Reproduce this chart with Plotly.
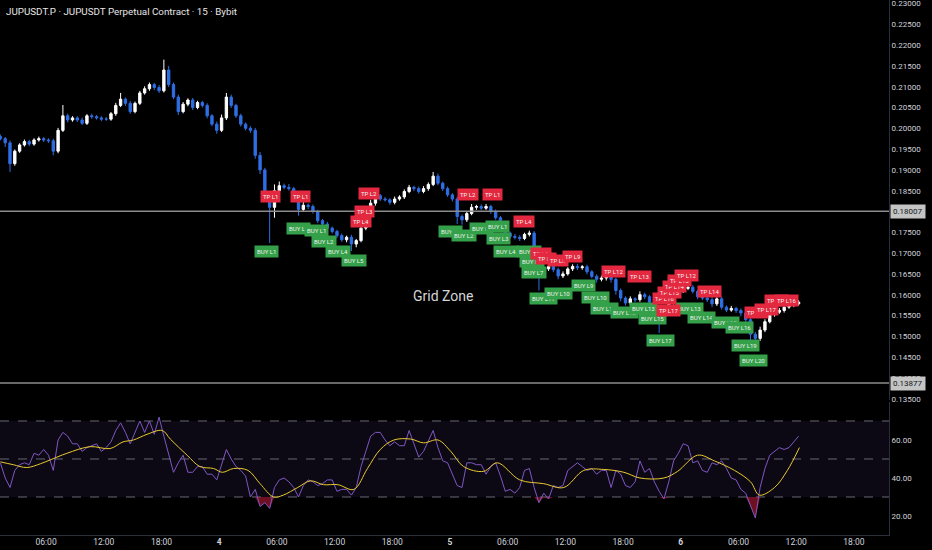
import pandas as pd
import plotly.graph_objects as go
from plotly.subplots import make_subplots

# -----------------------------
# Data (30-min bars, prices in USDT)
# -----------------------------
bar_time = pd.date_range("2025-02-03 01:15", periods=167, freq="30min")

closes = [
    0.1975, 0.1965, 0.1915, 0.1945, 0.1960, 0.1968, 0.1962, 0.1972, 0.1975, 0.1972,
    0.1970, 0.1945, 0.1995, 0.2030, 0.2020, 0.2025, 0.2020, 0.2012, 0.2030, 0.2028,
    0.2025, 0.2022, 0.2022, 0.2035, 0.2055, 0.2070, 0.2060, 0.2040, 0.2060, 0.2085,
    0.2095, 0.2105, 0.2098, 0.2090, 0.2140, 0.2105, 0.2075, 0.2040, 0.2058, 0.2068,
    0.2050, 0.2062, 0.2055, 0.2030, 0.2010, 0.1995, 0.2025, 0.2075, 0.2055, 0.2030,
    0.2010, 0.2000, 0.1995, 0.1935, 0.1900, 0.1840, 0.1810, 0.1850, 0.1862, 0.1858,
    0.1855, 0.1835, 0.1805, 0.1815, 0.1812, 0.1800, 0.1778, 0.1770, 0.1760, 0.1752,
    0.1742, 0.1732, 0.1738, 0.1722, 0.1730, 0.1760, 0.1800, 0.1820, 0.1838, 0.1830,
    0.1828, 0.1822, 0.1830, 0.1835, 0.1848, 0.1858, 0.1855, 0.1848, 0.1855, 0.1865,
    0.1885, 0.1868, 0.1855, 0.1840, 0.1830, 0.1788, 0.1780, 0.1795, 0.1810, 0.1812,
    0.1808, 0.1812, 0.1800, 0.1785, 0.1758, 0.1748, 0.1740, 0.1738, 0.1735, 0.1745,
    0.1748, 0.1700, 0.1650, 0.1662, 0.1668, 0.1660, 0.1645, 0.1650, 0.1662, 0.1668,
    0.1665, 0.1667, 0.1655, 0.1644, 0.1637, 0.1640, 0.1650, 0.1637, 0.1610, 0.1592,
    0.1580, 0.1590, 0.1588, 0.1600, 0.1595, 0.1582, 0.1565, 0.1545, 0.1555, 0.1580,
    0.1600, 0.1610, 0.1615, 0.1618, 0.1608, 0.1595, 0.1592, 0.1588, 0.1578, 0.1590,
    0.1570, 0.1563, 0.1567, 0.1562, 0.1556, 0.1540, 0.1505, 0.1495, 0.1515, 0.1535,
    0.1552, 0.1558, 0.1562, 0.1570, 0.1575, 0.1578, 0.1582,
]
first_open = 0.1980

# wick lengths above / below the body, in 0.0001 USDT
upper_wick = [
    5, 4, 6, 4, 4, 5, 4, 4, 5, 4,
    4, 5, 6, 26, 5, 4, 4, 6, 4, 5,
    4, 4, 5, 4, 6, 15, 4, 6, 4, 5,
    6, 5, 4, 6, 25, 10, 5, 6, 5, 4,
    5, 4, 4, 5, 4, 6, 8, 10, 6, 4,
    5, 4, 5, 6, 8, 5, 6, 15, 10, 5,
    8, 4, 5, 8, 4, 5, 4, 4, 5, 4,
    4, 5, 4, 6, 4, 5, 6, 8, 5, 4,
    5, 4, 6, 4, 5, 6, 4, 5, 6, 5,
    10, 6, 4, 5, 4, 6, 5, 6, 8, 4,
    5, 6, 4, 5, 4, 5, 4, 6, 5, 4,
    6, 5, 8, 5, 6, 4, 5, 6, 4, 5,
    6, 4, 5, 4, 5, 6, 4, 5, 4, 5,
    4, 6, 4, 8, 5, 4, 5, 4, 6, 5,
    6, 5, 4, 6, 5, 4, 5, 4, 6, 4,
    5, 4, 6, 4, 5, 4, 5, 6, 8, 6,
    5, 4, 6, 4, 5, 4, 5,
]
lower_wick = [
    4, 10, 20, 5, 4, 4, 5, 4, 4, 5,
    5, 10, 5, 4, 6, 4, 5, 4, 4, 5,
    4, 5, 4, 4, 5, 4, 6, 5, 4, 4,
    4, 5, 6, 5, 4, 6, 5, 8, 4, 5,
    6, 4, 5, 6, 5, 8, 4, 5, 6, 5,
    6, 5, 6, 8, 10, 12, 86, 25, 6, 5,
    5, 6, 15, 5, 6, 5, 6, 5, 6, 5,
    6, 5, 6, 17, 8, 4, 5, 4, 6, 5,
    4, 6, 5, 4, 5, 4, 6, 5, 4, 5,
    4, 5, 6, 5, 6, 18, 12, 5, 4, 6,
    5, 4, 6, 5, 8, 5, 6, 5, 6, 4,
    5, 8, 40, 6, 5, 6, 8, 5, 4, 5,
    6, 5, 6, 5, 8, 5, 6, 8, 10, 8,
    6, 5, 6, 5, 6, 8, 6, 37, 8, 5,
    4, 5, 6, 4, 5, 6, 5, 6, 8, 5,
    6, 5, 4, 6, 8, 10, 15, 20, 6, 5,
    4, 5, 4, 5, 4, 5, 4,
]

rsi = [
    48, 40, 35, 44, 47, 48, 47, 53, 52, 55,
    52, 44, 60, 64, 62, 58, 58, 54, 56, 57,
    58, 54, 56, 59, 65, 69, 64, 58, 64, 70,
    64, 70, 63, 72, 62, 53, 43, 48, 52, 43,
    43, 46, 46, 42, 42, 39, 47, 55, 50, 46,
    44, 41, 30, 34, 25, 27, 24, 35, 39, 40,
    38, 35, 30, 36, 39, 38, 36, 37, 39, 39,
    33, 34, 34, 31, 35, 46, 54, 62, 64, 64,
    60, 57, 59, 57, 57, 65, 58, 51, 54, 60,
    65, 56, 49, 48, 42, 36, 35, 48, 48, 47,
    47, 42, 46, 48, 41, 33, 34, 32, 35, 44,
    45, 35, 27, 32, 29, 36, 35, 36, 44, 46,
    48, 46, 44, 45, 42, 44, 44, 35, 44, 42,
    36, 35, 38, 49, 43, 45, 38, 33, 29, 38,
    49, 53, 58, 57, 48, 49, 44, 43, 48, 47,
    49, 45, 40, 39, 34, 32, 25, 19, 35, 45,
    52, 54, 56, 55, 56, 59, 62,
]

ma_time = [
    "2025-02-03 01:15", "2025-02-03 02:35", "2025-02-03 04:00", "2025-02-03 05:25",
    "2025-02-03 06:25", "2025-02-03 08:10", "2025-02-03 10:35", "2025-02-03 12:40",
    "2025-02-03 14:00", "2025-02-03 15:05", "2025-02-03 16:30", "2025-02-03 18:05",
    "2025-02-03 18:55", "2025-02-03 20:40", "2025-02-03 22:00", "2025-02-03 23:25",
    "2025-02-04 00:20", "2025-02-04 01:30", "2025-02-04 03:00", "2025-02-04 04:15",
    "2025-02-04 05:40", "2025-02-04 06:40", "2025-02-04 08:10", "2025-02-04 09:30",
    "2025-02-04 10:50", "2025-02-04 12:20", "2025-02-04 14:00", "2025-02-04 15:25",
    "2025-02-04 16:45", "2025-02-04 18:10", "2025-02-04 19:55", "2025-02-04 21:15",
    "2025-02-04 22:45", "2025-02-05 00:05", "2025-02-05 01:25", "2025-02-05 03:30",
    "2025-02-05 04:55", "2025-02-05 07:15", "2025-02-05 09:45", "2025-02-05 11:50",
    "2025-02-05 13:55", "2025-02-05 16:00", "2025-02-05 18:05", "2025-02-05 19:45",
    "2025-02-05 22:15", "2025-02-05 23:40", "2025-02-06 01:45", "2025-02-06 03:30",
    "2025-02-06 05:35", "2025-02-06 07:15", "2025-02-06 08:10", "2025-02-06 09:45",
    "2025-02-06 11:05", "2025-02-06 12:20",
]
ma_vals = [
    48.5, 47, 45.5, 47.5, 49.5, 53, 56.5, 55.5, 59, 60, 63, 65, 60.5, 52, 46, 45,
    43, 45, 44, 37, 30, 31, 35, 38.5, 36.5, 36.5, 34, 45, 55, 60, 60.5, 58.5, 60,
    54, 46, 43.5, 48, 39, 37, 35, 44, 44.5, 43, 40, 40, 43.5,
    52, 49, 44, 38, 31, 35, 44, 56,
]

# grid order labels
buy_time = [
    "2025-02-04 04:55", "2025-02-04 08:15", "2025-02-04 10:08", "2025-02-04 10:52",
    "2025-02-04 12:19", "2025-02-04 13:59", "2025-02-05 00:05", "2025-02-05 01:26",
    "2025-02-05 03:19", "2025-02-05 04:59", "2025-02-05 05:05", "2025-02-05 05:49",
    "2025-02-05 08:13", "2025-02-05 08:31", "2025-02-05 08:44", "2025-02-05 09:46",
    "2025-02-05 11:20", "2025-02-05 13:56", "2025-02-05 15:05", "2025-02-05 16:01",
    "2025-02-05 18:07", "2025-02-05 20:05", "2025-02-05 21:01", "2025-02-05 21:52",
    "2025-02-06 00:53", "2025-02-06 02:08", "2025-02-06 04:38", "2025-02-06 06:05",
    "2025-02-06 06:43", "2025-02-06 07:32",
]
buy_price = [
    0.1705, 0.1758, 0.1755, 0.1729, 0.1705, 0.1683, 0.1751, 0.1743,
    0.1760, 0.1765, 0.1736, 0.1705, 0.1703, 0.1679, 0.1654, 0.1592,
    0.1604, 0.1621, 0.1594, 0.1568, 0.1556, 0.1568, 0.1542, 0.1489,
    0.1568, 0.1544, 0.1534, 0.1522, 0.1479, 0.1443,
]
buy_text = [
    "BUY L1", "BUY L1", "BUY L1", "BUY L2", "BUY L4", "BUY L5", "BUY L1", "BUY L2",
    "BUY L1", "BUY L1", "BUY L3", "BUY L4", "BUY L5", "BUY L6", "BUY L7", "BUY L11",
    "BUY L10", "BUY L9", "BUY L10", "BUY L11", "BUY L12", "BUY L13", "BUY L15", "BUY L17",
    "BUY L13", "BUY L14", "BUY L15", "BUY L16", "BUY L19", "BUY L20",
]
tp_time = [
    "2025-02-04 05:20", "2025-02-04 08:28", "2025-02-04 14:43", "2025-02-04 15:08",
    "2025-02-04 15:32", "2025-02-05 01:52", "2025-02-05 04:28", "2025-02-05 07:41",
    "2025-02-05 09:28", "2025-02-05 09:59", "2025-02-05 11:14", "2025-02-05 12:47",
    "2025-02-05 16:58", "2025-02-05 19:40", "2025-02-05 22:41", "2025-02-05 22:16",
    "2025-02-05 22:47", "2025-02-05 23:19", "2025-02-05 23:50", "2025-02-06 00:34",
    "2025-02-06 02:58", "2025-02-06 07:51", "2025-02-06 08:54", "2025-02-06 09:56",
    "2025-02-06 10:59",
]
tp_price = [
    0.1835, 0.1835, 0.1775, 0.1801, 0.1844, 0.1840, 0.1840, 0.1777,
    0.1700, 0.1688, 0.1681, 0.1691, 0.1655, 0.1643, 0.1563, 0.1590,
    0.1605, 0.1619, 0.1633, 0.1647, 0.1607, 0.1556, 0.1565, 0.1587,
    0.1587,
]
tp_text = [
    "TP L1", "TP L1", "TP L4", "TP L3", "TP L2", "TP L2", "TP L1", "TP L4",
    "TP L6", "TP L7", "TP L8", "TP L9", "TP L12", "TP L13", "TP L17", "TP L16",
    "TP L15", "TP L14", "TP L13", "TP L12", "TP L14", "TP L18", "TP L17", "TP L17",
    "TP L16",
]

grid_top = 0.18007
grid_bottom = 0.13877

tick_time = [
    "2025-02-03 06:00", "2025-02-03 12:00", "2025-02-03 18:00", "2025-02-04 00:00",
    "2025-02-04 06:00", "2025-02-04 12:00", "2025-02-04 18:00", "2025-02-05 00:00",
    "2025-02-05 06:00", "2025-02-05 12:00", "2025-02-05 18:00", "2025-02-06 00:00",
    "2025-02-06 06:00", "2025-02-06 12:00", "2025-02-06 18:00",
]
tick_text = ["06:00", "12:00", "18:00", "<b>4</b>", "06:00", "12:00", "18:00", "<b>5</b>",
             "06:00", "12:00", "18:00", "<b>6</b>", "06:00", "12:00", "18:00"]

# -----------------------------
# Build OHLC
# -----------------------------
df = pd.DataFrame({"time": bar_time, "close": closes})
df["open"] = [first_open] + closes[:-1]
df["high"] = df[["open", "close"]].max(axis=1) + pd.Series(upper_wick) * 1e-4
df["low"] = df[["open", "close"]].min(axis=1) - pd.Series(lower_wick) * 1e-4

BG = "#000000"
TXT = "#d1d4dc"
FONT = "Roboto"

fig = make_subplots(rows=2, cols=1, shared_xaxes=True, vertical_spacing=0.01)

fig.add_trace(go.Candlestick(
    x=df["time"], open=df["open"], high=df["high"], low=df["low"], close=df["close"],
    increasing=dict(line=dict(color="#ffffff", width=1), fillcolor="#ffffff"),
    decreasing=dict(line=dict(color="#2f6fe4", width=1), fillcolor="#2f6fe4"),
    whiskerwidth=0, showlegend=False, hoverinfo="skip",
), row=1, col=1)

# RSI pane
fig.add_trace(go.Scatter(x=bar_time, y=[30] * len(rsi), mode="lines",
                         line=dict(width=0), showlegend=False, hoverinfo="skip"), row=2, col=1)
fig.add_trace(go.Scatter(x=bar_time, y=[min(r, 30) for r in rsi], mode="lines",
                         line=dict(width=0), fill="tonexty", fillcolor="rgba(200,30,60,0.55)",
                         showlegend=False, hoverinfo="skip"), row=2, col=1)
fig.add_trace(go.Scatter(x=bar_time, y=rsi, mode="lines", line=dict(color="#7e57c2", width=1),
                         showlegend=False, hoverinfo="skip"), row=2, col=1)
fig.add_trace(go.Scatter(x=pd.to_datetime(ma_time), y=ma_vals, mode="lines",
                         line=dict(color="#e8c92f", width=1, shape="spline"),
                         showlegend=False, hoverinfo="skip"), row=2, col=1)

fig.add_hrect(y0=30, y1=70, row=2, col=1, fillcolor="rgba(126,87,194,0.1)",
              line_width=0, layer="below", exclude_empty_subplots=False)
for lvl in (70, 50, 30):
    fig.add_hline(y=lvl, row=2, col=1, line=dict(color="#6a6878", width=1, dash="dash"),
                  layer="below", exclude_empty_subplots=False)

# grid zone bounds
for lvl in (grid_top, grid_bottom):
    fig.add_hline(y=lvl, row=1, col=1, line=dict(color="#8c8c8c", width=1.5))
    fig.add_annotation(x=1.0, xref="paper", y=lvl, yref="y", text=f"{lvl:.5f}",
                       xanchor="left", xshift=1, showarrow=False, bgcolor="#c4c4c4", borderpad=2,
                       font=dict(family=FONT, size=8, color="#131722"))

for t, p, s in zip(buy_time, buy_price, buy_text):
    fig.add_annotation(x=t, y=p, xref="x", yref="y", text=s, showarrow=False,
                       bgcolor="#34a049", borderpad=2,
                       font=dict(family=FONT, size=6, color="#f0f0f0"))
for t, p, s in zip(tp_time, tp_price, tp_text):
    fig.add_annotation(x=t, y=p, xref="x", yref="y", text=s, showarrow=False,
                       bgcolor="#e3283f", borderpad=2,
                       font=dict(family=FONT, size=6, color="#f0f0f0"))

fig.add_annotation(x=0.498, xref="paper", y=0.1597, yref="y", text="Grid Zone",
                   showarrow=False, font=dict(family=FONT, size=14, color="#d4d4d4"))
fig.add_annotation(x=0.005, xref="paper", y=1, yref="paper", yanchor="top", xanchor="left",
                   yshift=-4, text="JUPUSDT.P · JUPUSDT Perpetual Contract · 15 · Bybit",
                   showarrow=False, font=dict(family=FONT, size=9.8, color="#e6e6e6"))

x_range = ["2025-02-03 01:12:36", "2025-02-06 21:39"]
fig.update_layout(
    width=932, height=550,
    margin=dict(l=0, r=43, t=0, b=15),
    paper_bgcolor=BG, plot_bgcolor=BG,
    font=dict(family=FONT, size=8, color=TXT),
    showlegend=False,
    xaxis=dict(range=x_range, rangeslider=dict(visible=False), showgrid=False,
               showticklabels=False, zeroline=False),
    xaxis2=dict(range=x_range, showgrid=False, zeroline=False, tickvals=tick_time,
                ticktext=tick_text, ticks="", showline=True, linecolor="#2a2e39",
                ticklabelstandoff=-1, tickfont=dict(size=8.5, color=TXT)),
    yaxis=dict(domain=[0.2523, 1], range=[0.13468, 0.23084], side="right", dtick=0.005,
               tick0=0.13, tickformat=".5f", showgrid=False, zeroline=False,
               ticklabeloverflow="allow",
               showline=True, linecolor="#2a2e39", ticks="", tickfont=dict(size=8, color=TXT)),
    yaxis2=dict(domain=[0, 0.2486], range=[10, 80], side="right", tickvals=[20, 40, 60],
                tickformat=".2f", showgrid=False, zeroline=False, showline=True,
                linecolor="#2a2e39", ticks="", tickfont=dict(size=8, color=TXT)),
)

# page body has an 8px default margin; drop it so the figure fills the window
fig.write_html("out.html", config={"displayModeBar": False},
               post_script="document.body.style.margin='0';document.body.style.background='#000';")
